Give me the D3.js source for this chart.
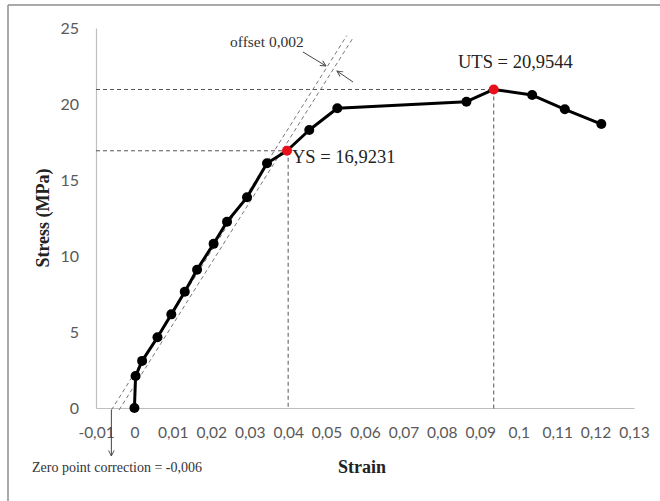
<!DOCTYPE html>
<html lang="en">
<head>
<meta charset="UTF-8">
<title>Stress-Strain Curve</title>
<script src="https://d3js.org/d3.v7.min.js"></script>
<style>
  body { margin: 0; background: #fff; }
  svg { display: block; }
  .tick-label { font-family: Lato, 'Open Sans', sans-serif; fill: #595959; }
  .serif { font-family: 'Liberation Serif', 'Times New Roman', serif; }
</style>
</head>
<body>
<svg width="660" height="501"></svg>
<script>
  // measured curve
  const strain = [0, 0.0003, 0.002, 0.006, 0.0096, 0.0131, 0.0163, 0.0206, 0.0241, 0.0293,
                  0.0345, 0.0397, 0.0455, 0.0528, 0.0864, 0.0935, 0.1035, 0.112, 0.1215];
  const stress = [0, 2.1, 3.1, 4.65, 6.16, 7.65, 9.1, 10.8, 12.25, 13.86,
                  16.1, 16.9231, 18.29, 19.72, 20.15, 20.9544, 20.59, 19.65, 18.68];
  const redIdx = [11, 15];   // YS and UTS

  const xTicks = [-0.01, 0, 0.01, 0.02, 0.03, 0.04, 0.05, 0.06, 0.07, 0.08, 0.09, 0.1, 0.11, 0.12, 0.13];
  const xTickLabels = ["-0,01", "0", "0,01", "0,02", "0,03", "0,04", "0,05", "0,06", "0,07", "0,08", "0,09", "0,1", "0,11", "0,12", "0,13"];
  const yTicks = [0, 5, 10, 15, 20, 25];

  // offset construction lines (zero point correction -0,006, offset 0,002)
  const modulus = 400;
  const offsetStarts = [-0.006, -0.004];
  const offsetTops = [24.5, 24.3];

  const ys = {strain: 0.04, stress: 16.9231};
  const uts = {strain: 0.0935, stress: 20.9544};

  const svg = d3.select("svg");
  const x = d3.scaleLinear().domain([-0.01, 0.13]).range([96, 634]);
  const y = d3.scaleLinear().domain([0, 25]).range([408, 28]);

  // frame edges (top and left)
  svg.append("line").attr("x1", 8).attr("x2", 660).attr("y1", 5).attr("y2", 5)
     .attr("stroke", "#8c8c8c").attr("stroke-width", 1.5);
  svg.append("line").attr("x1", 8).attr("x2", 8).attr("y1", 5).attr("y2", 501)
     .attr("stroke", "#8c8c8c").attr("stroke-width", 1.5);

  const defs = svg.append("defs");
  defs.append("marker").attr("id", "arr").attr("viewBox", "0 0 10 10")
      .attr("refX", 9).attr("refY", 5).attr("markerWidth", 7).attr("markerHeight", 7)
      .attr("orient", "auto")
    .append("path").attr("d", "M1,1 L9,5 L1,9").attr("fill", "none")
      .attr("stroke", "#444").attr("stroke-width", 1.3);

  // axes
  const xAxis = svg.append("g").attr("transform", `translate(0,${y(0)})`)
    .call(d3.axisBottom(x).tickValues(xTicks).tickSize(0).tickPadding(19)
            .tickFormat((d, i) => xTickLabels[i]));
  const yAxis = svg.append("g").attr("transform", `translate(${x(-0.01)},0)`)
    .call(d3.axisLeft(y).tickValues(yTicks).tickSize(0).tickPadding(17));
  [xAxis, yAxis].forEach(g => {
    g.select(".domain").attr("stroke", "#bfbfbf").attr("stroke-width", 1.2);
    g.selectAll("text").attr("class", "tick-label");
  });
  xAxis.selectAll("text").attr("font-size", 15.5);
  yAxis.selectAll("text").attr("font-size", 16);

  const dash = (x1, y1, x2, y2) => svg.append("line")
    .attr("x1", x1).attr("y1", y1).attr("x2", x2).attr("y2", y2)
    .attr("stroke", "#555").attr("stroke-width", 1).attr("stroke-dasharray", "4,3");

  // guide lines to YS and UTS
  dash(x(-0.01), y(uts.stress), x(uts.strain), y(uts.stress));
  dash(x(uts.strain), y(uts.stress), x(uts.strain), y(0) + 2);
  dash(x(-0.01), y(ys.stress), x(ys.strain), y(ys.stress));
  dash(x(ys.strain), y(ys.stress), x(ys.strain), y(0));

  // offset lines
  offsetStarts.forEach((s0, i) => {
    const top = offsetTops[i];
    dash(x(s0), y(0) + 2, x(s0 + top / modulus), y(top)).attr("stroke", "#777");
  });

  // curve
  const pts = strain.map((s, i) => [s, stress[i]]);
  svg.append("path").datum(pts)
     .attr("fill", "none").attr("stroke", "#000").attr("stroke-width", 3)
     .attr("stroke-linejoin", "round")
     .attr("d", d3.line().x(d => x(d[0])).y(d => y(d[1])));
  svg.selectAll("circle.pt").data(pts).join("circle")
     .attr("class", "pt")
     .attr("cx", d => x(d[0])).attr("cy", d => y(d[1])).attr("r", 5)
     .attr("fill", (d, i) => redIdx.includes(i) ? "#e8101b" : "#000");

  // annotations
  svg.append("text").attr("class", "serif").attr("x", 458).attr("y", 68)
     .attr("font-size", 18.5).attr("fill", "#222").text("UTS = 20,9544");
  svg.append("text").attr("class", "serif").attr("x", 292).attr("y", 163)
     .attr("font-size", 18.5).attr("fill", "#222").text("YS = 16,9231");
  svg.append("text").attr("class", "serif").attr("x", 230).attr("y", 47)
     .attr("font-size", 15.5).attr("fill", "#333").text("offset 0,002");
  svg.append("line").attr("x1", 303).attr("y1", 52).attr("x2", 326).attr("y2", 66)
     .attr("stroke", "#444").attr("stroke-width", 1).attr("marker-end", "url(#arr)");
  svg.append("line").attr("x1", 353).attr("y1", 82).attr("x2", 337).attr("y2", 71)
     .attr("stroke", "#444").attr("stroke-width", 1).attr("marker-end", "url(#arr)");

  svg.append("line").attr("x1", x(-0.006)).attr("y1", 410).attr("x2", x(-0.006)).attr("y2", 456)
     .attr("stroke", "#444").attr("stroke-width", 1).attr("marker-end", "url(#arr)");
  svg.append("text").attr("class", "serif").attr("x", 32).attr("y", 472)
     .attr("font-size", 14).attr("fill", "#333").text("Zero point correction = -0,006");

  // axis titles
  svg.append("text").attr("class", "serif").attr("x", 362).attr("y", 473)
     .attr("text-anchor", "middle").attr("font-size", 18).attr("font-weight", "bold")
     .attr("fill", "#222").text("Strain");
  svg.append("text").attr("class", "serif")
     .attr("transform", "translate(49,218) rotate(-90)")
     .attr("text-anchor", "middle").attr("font-size", 18).attr("font-weight", "bold")
     .attr("fill", "#222").text("Stress (MPa)");
</script>
</body>
</html>
